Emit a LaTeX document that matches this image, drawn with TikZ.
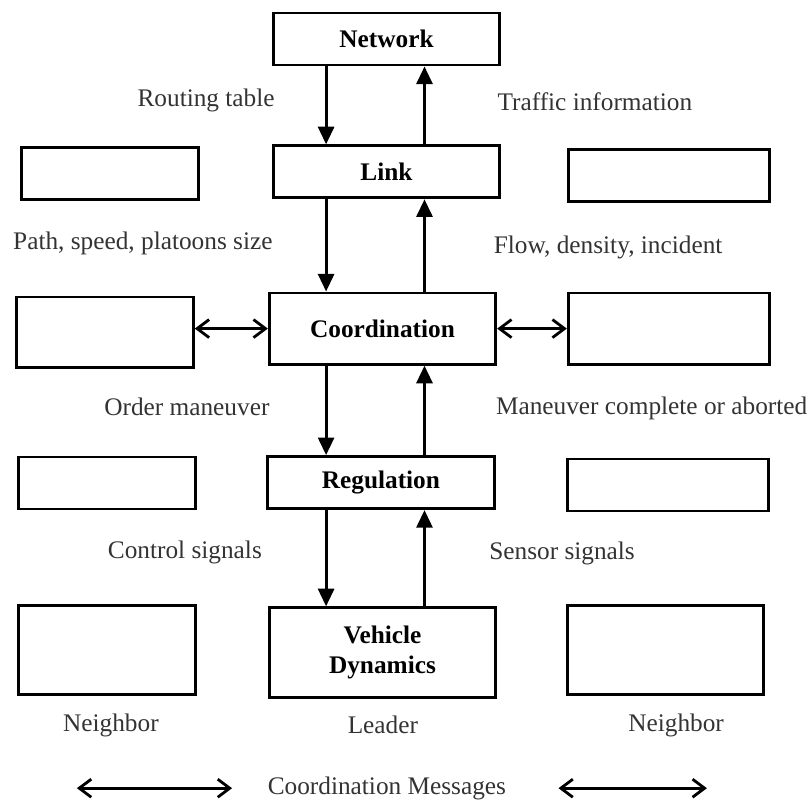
\documentclass[tikz,border=0pt]{standalone}
\usepackage{fontspec}
\setmainfont{Liberation Serif}
\usetikzlibrary{arrows.meta, positioning}

\begin{document}
\begin{tikzpicture}[>={Triangle[length=0.44cm, width=0.4cm]}, font=\fontsize{18}{22}\selectfont]
  \tikzstyle{layer} = [rectangle, draw, line width=2.1pt, minimum width=5.66cm, minimum height=1.3cm, align=center, font=\fontsize{18}{21}\selectfont\bfseries]
  \tikzstyle{peer} = [rectangle, draw, line width=2.1pt, minimum width=4.42cm, minimum height=1.3cm]
  \tikzstyle{peerwide} = [peer, minimum width=5.03cm]
  \tikzstyle{msg} = [text=black!80, inner sep=0pt]
  \tikzstyle{flow} = [->, line width=2pt]
  \tikzstyle{talk} = [{Straight Barb[length=0.3cm, width=0.45cm]}-{Straight Barb[length=0.3cm, width=0.45cm]}, line width=2pt]

  \useasboundingbox (-9.5625, 0.975) rectangle (10.6625, -19.15);

  \coordinate (lanedown) at (-1.41, 0);
  \coordinate (laneup) at (1.05, 0);

  \node [layer] (network) at (0.1, 0) {Network};
  \node [layer] (link) at (0.1, -3.32) {Link};
  \node [layer, minimum height=1.78cm] (coordination) at (0, -7.24) {Coordination};
  \node [layer] (regulation) at (-0.04, -11.09) {Regulation};
  \node [layer, minimum height=2.24cm] (vehicle) at (0, -15.34) {Vehicle\\Dynamics};

  \node [peer] (linkleft) at (-6.81, -3.37) {};
  \node [peer, minimum height=1.76cm] (coordleft) at (-6.94, -7.33) {};
  \node [peer] (regleft) at (-6.89, -11.1) {};
  \node [peer, minimum height=2.23cm] (vehleft) at (-6.89, -15.28) {};
  \node [peerwide] (linkright) at (7.16, -3.41) {};
  \node [peerwide, minimum height=1.78cm] (coordright) at (7.16, -7.24) {};
  \node [peerwide] (regright) at (7.14, -11.15) {};
  \node [peerwide, minimum width=4.89cm, minimum height=2.23cm] (vehright) at (7.08, -15.28) {};

  \node [msg] (routing) at (-4.41, -1.53) {Routing table};
  \node [msg] (traffic) at (5.31, -1.58) {Traffic information};
  \node [msg] (path) at (-5.99, -5.1) {Path, speed, platoons size};
  \node [msg] (density) at (5.64, -5.2) {Flow, density, incident};
  \node [msg] (order) at (-4.89, -9.2) {Order maneuver};
  \node [msg] (complete) at (6.73, -9.23) {Maneuver complete or aborted};
  \node [msg] (control) at (-4.94, -12.83) {Control signals};
  \node [msg] (sensor) at (4.49, -12.85) {Sensor signals};
  \node [msg] (neighborleft) at (-6.79, -17.15) {Neighbor};
  \node [msg] (leader) at (0.01, -17.15) {Leader};
  \node [msg] (neighborright) at (7.34, -17.15) {Neighbor};
  \node [msg] (messages) at (0.11, -18.73) {Coordination Messages};

  \coordinate (talkleftA) at (-7.64, -18.73);
  \coordinate (talkleftB) at (-3.76, -18.73);
  \coordinate (talkrightA) at (4.4, -18.73);
  \coordinate (talkrightB) at (8.11, -18.73);

  \draw[flow] (network.south -| lanedown) -- (link.north -| lanedown);
  \draw[flow] (link.north -| laneup) -- (network.south -| laneup);
  \draw[flow] (link.south -| lanedown) -- (coordination.north -| lanedown);
  \draw[flow] (coordination.north -| laneup) -- (link.south -| laneup);
  \draw[flow] (coordination.south -| lanedown) -- (regulation.north -| lanedown);
  \draw[flow] (regulation.north -| laneup) -- (coordination.south -| laneup);
  \draw[flow] (regulation.south -| lanedown) -- (vehicle.north -| lanedown);
  \draw[flow] (vehicle.north -| laneup) -- (regulation.south -| laneup);

  \draw[talk] (coordination.west -| coordleft.east) -- (coordination.west);
  \draw[talk] (coordination.east) -- (coordination.east -| coordright.west);
  \draw[talk] (talkleftA) -- (talkleftB);
  \draw[talk] (talkrightA) -- (talkrightB);
\end{tikzpicture}
\end{document}
